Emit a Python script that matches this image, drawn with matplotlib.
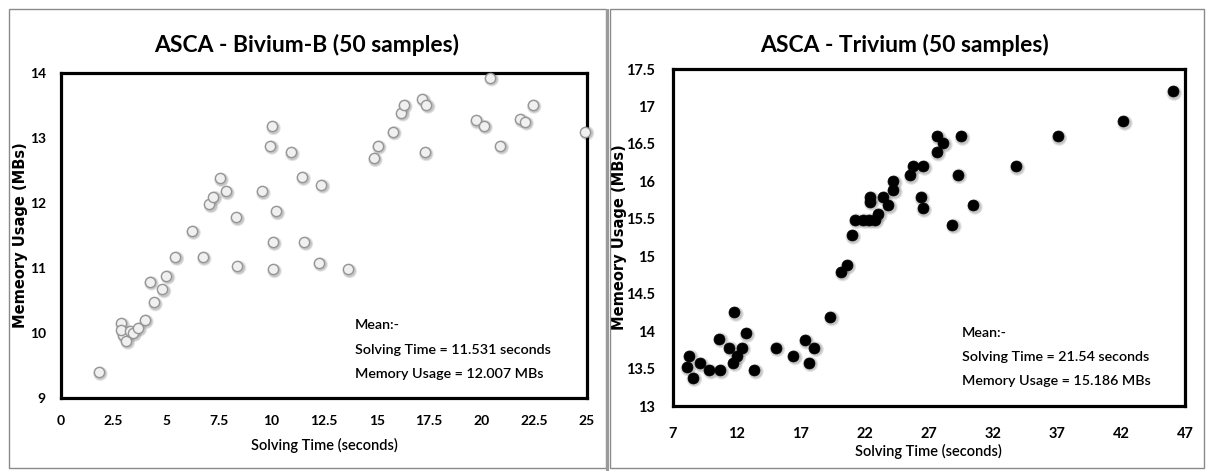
import matplotlib
matplotlib.use("Agg")
import matplotlib.pyplot as plt
import matplotlib.transforms as mtransforms
from matplotlib.patches import Rectangle

# ---------------- data ----------------
biv_time = [1.79, 2.85, 2.95, 2.87, 3.10, 3.27, 3.42, 3.66, 3.98, 4.22,
            4.41, 4.82, 5.01, 5.43, 6.22, 6.73, 7.05, 7.24, 7.55, 7.83,
            8.32, 8.38, 9.54, 9.94, 10.02, 10.07, 10.07, 10.22, 10.92, 11.45,
            11.56, 12.26, 12.37, 13.64, 14.86, 15.05, 15.77, 16.17, 16.29, 17.17,
            17.28, 17.37, 19.71, 20.10, 20.39, 20.87, 21.82, 22.05, 22.41, 24.92]
biv_mem = [9.40, 10.15, 9.97, 10.05, 9.88, 10.03, 10.00, 10.08, 10.20, 10.79,
           10.47, 10.67, 10.88, 11.17, 11.57, 11.17, 11.98, 12.10, 12.38, 12.18,
           11.78, 11.03, 12.18, 12.88, 13.18, 11.40, 10.98, 11.87, 12.78, 12.40,
           11.40, 11.08, 12.28, 10.98, 12.69, 12.88, 13.10, 13.39, 13.51, 13.60,
           12.78, 13.51, 13.27, 13.19, 13.93, 12.88, 13.29, 13.25, 13.51, 13.10]

tri_time = [8.09, 8.30, 8.56, 9.13, 9.86, 10.69, 10.64, 11.42, 11.81, 11.73,
            11.99, 12.38, 12.70, 13.37, 15.04, 16.42, 17.33, 17.62, 18.06, 19.30,
            20.14, 20.58, 20.97, 21.23, 21.88, 22.35, 22.79, 23.05, 22.40, 22.40,
            23.44, 23.83, 24.22, 24.22, 25.52, 25.78, 26.56, 26.36, 26.51, 27.61,
            27.66, 28.13, 46.03, 42.18, 37.05, 33.78, 29.50, 29.25, 30.47, 28.83]
tri_mem = [13.52, 13.67, 13.38, 13.57, 13.48, 13.48, 13.90, 13.78, 14.25, 13.58,
           13.67, 13.78, 13.97, 13.48, 13.78, 13.67, 13.88, 13.58, 13.78, 14.19,
           14.79, 14.88, 15.28, 15.49, 15.49, 15.49, 15.49, 15.57, 15.79, 15.73,
           15.79, 15.68, 16.00, 15.88, 16.08, 16.20, 16.20, 15.79, 15.64, 16.39,
           16.60, 16.51, 17.20, 16.80, 16.60, 16.20, 16.60, 16.09, 15.68, 15.42]

biv_xticks = [0, 2.5, 5, 7.5, 10, 12.5, 15, 17.5, 20, 22.5, 25]
biv_xticklabels = ["0", "2.5", "5", "7.5", "10", "12.5", "15", "17.5", "20", "22.5", "25"]
biv_yticks = [9, 10, 11, 12, 13, 14]
tri_xticks = [7, 12, 17, 22, 27, 32, 37, 42, 47]
tri_yticks = [13, 13.5, 14, 14.5, 15, 15.5, 16, 16.5, 17, 17.5]
tri_yticklabels = ["13", "13.5", "14", "14.5", "15", "15.5", "16", "16.5", "17", "17.5"]

titles = ["ASCA - Bivium-B (50 samples)", "ASCA - Trivium (50 samples)"]
xlabel = "Solving Time (seconds)"
ylabel = "Memeory Usage (MBs)"
biv_note = ["Mean:-", "Solving Time = 11.531 seconds", "Memory Usage = 12.007 MBs"]
tri_note = ["Mean:-", "Solving Time = 21.54 seconds", "Memory Usage = 15.186 MBs"]

# ---------------- figure ----------------
W, H = 1209, 471
fig = plt.figure(figsize=(W / 100, H / 100), dpi=100)
fig.patch.set_facecolor("white")

def fx(px):
    return px / W

def fy(py):
    return 1 - py / H

# panel frames
for (x0, x1) in [(9, 606), (610, 1204)]:
    fig.patches.append(Rectangle((fx(x0), fy(468)), fx(x1 - x0), (468 - 9) / H,
                                 transform=fig.transFigure, fill=False,
                                 edgecolor="#8a8a8a", linewidth=1.0))
# divider shadow
fig.patches.append(Rectangle((fx(606), 0), fx(3), fy(9),
                             transform=fig.transFigure, facecolor="#9a9a9a",
                             edgecolor="none"))

TFONT = "Lato"

def make_axes(box, xlim, ylim):
    x0, x1, y0, y1 = box  # pixels: left, right, top, bottom
    ax = fig.add_axes([fx(x0), fy(y1), fx(x1 - x0), (y1 - y0) / H])
    ax.set_xlim(*xlim)
    ax.set_ylim(*ylim)
    for s in ax.spines.values():
        s.set_linewidth(2.3)
        s.set_color("black")
    ax.tick_params(length=0)
    return ax

def shadow_scatter(ax, x, y, face, edge, size, ew):
    off = mtransforms.offset_copy(ax.transData, fig=fig, x=1.2, y=-1.2, units="points")
    ax.scatter(x, y, s=size * 2.0, c="#7a7a7a", alpha=0.22, edgecolors="none",
               transform=off, zorder=2, clip_on=False)
    ax.scatter(x, y, s=size * 1.4, c="#8a8a8a", alpha=0.32, edgecolors="none",
               transform=off, zorder=2, clip_on=False)
    ax.scatter(x, y, s=size, c=face, edgecolors=edge, linewidths=ew,
               zorder=3, clip_on=False)

# ---- left: Bivium-B ----
ax1 = make_axes((61, 587, 73, 398), (0, 25), (9, 14))
shadow_scatter(ax1, biv_time, biv_mem, "#f0f0f0", "#959595", 54, 1.0)
ax1.set_xticks(biv_xticks)
ax1.set_xticklabels(biv_xticklabels)
ax1.set_yticks(biv_yticks)
for lab in ax1.get_xticklabels() + ax1.get_yticklabels():
    lab.set_fontfamily(TFONT)
    lab.set_fontweight("bold")
    lab.set_fontsize(10)
ax1.tick_params(axis="x", pad=12)
ax1.tick_params(axis="y", pad=11)
ax1.set_xlabel(xlabel, fontfamily=TFONT, fontweight="semibold", fontsize=10.5, labelpad=8)
ax1.set_ylabel(ylabel, fontfamily="DejaVu Sans", fontweight="bold", fontsize=10.5)
ax1.yaxis.set_label_coords((28 - 61) / 526, 0.5)
fig.text(fx(307), fy(45), titles[0], ha="center", va="center",
         fontfamily=TFONT, fontweight="bold", fontsize=16.5)
for i, t in enumerate(biv_note):
    fig.text(fx(355), fy(325 + 24.5 * i), t, ha="left", va="center",
             fontfamily=TFONT, fontweight="semibold", fontsize=10.3)

# ---- right: Trivium ----
ax2 = make_axes((672.7, 1185, 69, 406), (7, 47), (13, 17.5))
shadow_scatter(ax2, tri_time, tri_mem, "black", "black", 62, 0.5)
ax2.set_xticks(tri_xticks)
ax2.set_yticks(tri_yticks)
ax2.set_yticklabels(tri_yticklabels)
for lab in ax2.get_xticklabels() + ax2.get_yticklabels():
    lab.set_fontfamily(TFONT)
    lab.set_fontweight("bold")
    lab.set_fontsize(10.5)
ax2.tick_params(axis="x", pad=15)
ax2.tick_params(axis="y", pad=13)
ax2.set_xlabel(xlabel, fontfamily=TFONT, fontweight="semibold", fontsize=10.5, labelpad=2)
ax2.set_ylabel(ylabel, fontfamily="DejaVu Sans", fontweight="bold", fontsize=10.5)
ax2.yaxis.set_label_coords((627 - 672.7) / 512.3, 0.5)
fig.text(fx(905), fy(45), titles[1], ha="center", va="center",
         fontfamily=TFONT, fontweight="bold", fontsize=16.5)
for i, t in enumerate(tri_note):
    fig.text(fx(962), fy(333 + 24 * i), t, ha="left", va="center",
             fontfamily=TFONT, fontweight="semibold", fontsize=10.3)

fig.savefig("out.png", dpi=100)
